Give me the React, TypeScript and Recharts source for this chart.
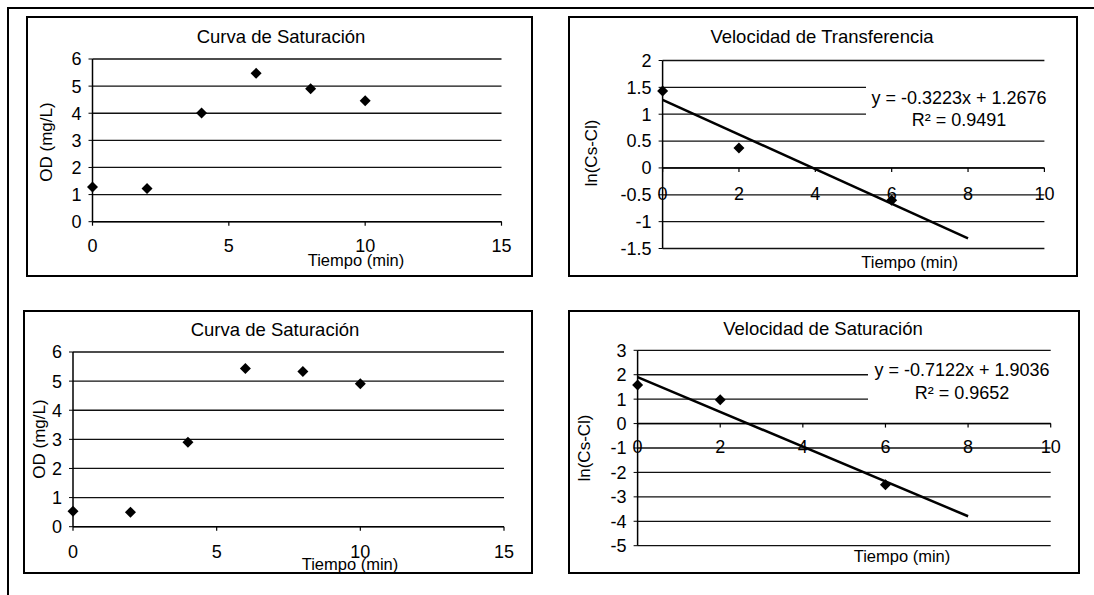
import React from "react";
import { ComposedChart, Scatter, Line, XAxis, YAxis, CartesianGrid, ReferenceLine } from "recharts";

// valores
const tiempo = [0, 2, 4, 6, 8, 10];
const odPrueba1 = [1.28, 1.22, 4.01, 5.47, 4.9, 4.46];
const odPrueba2 = [0.53, 0.5, 2.9, 5.43, 5.33, 4.91];

const tiempoLn = [0, 2, 6];
const lnPrueba1 = [1.43, 0.37, -0.6];
const lnPrueba2 = [1.58, 0.98, -2.5];

// extremos de las líneas de tendencia (x = 0 y x = 8)
const tendenciaX = [0, 8];
const tendencia1 = [1.2676, -1.3108];
const tendencia2 = [1.9036, -3.794];

const ticksTiempo15 = [0, 5, 10, 15];
const ticksTiempo10 = [0, 2, 4, 6, 8, 10];
const ticksOD = [0, 1, 2, 3, 4, 5, 6];
const ticksLn1 = [-1.5, -1, -0.5, 0, 0.5, 1, 1.5, 2];
const ticksLn2 = [-5, -4, -3, -2, -1, 0, 1, 2, 3];

const FONT = "'Liberation Sans', Arial, sans-serif";

const toPoints = (xs: number[], ys: number[]) => xs.map((x, i) => ({ x, y: ys[i] }));

function Diamond(props: any) {
  const { cx, cy } = props;
  const r = 5.5;
  return <path d={`M${cx},${cy - r}L${cx + r},${cy}L${cx},${cy + r}L${cx - r},${cy}Z`} fill="#000" />;
}

function XTick(props: any) {
  const { x, y, payload, shift, gap } = props;
  const ay = y - shift;
  return (
    <g>
      <line x1={x} x2={x} y1={ay} y2={ay + 4} stroke="#000" strokeWidth={1.2} />
      <text x={x} y={ay + gap} textAnchor="middle" dominantBaseline="central" fontSize={18} fill="#000" fontFamily={FONT}>
        {payload.value}
      </text>
    </g>
  );
}

interface PanelProps {
  box: { left: number; top: number; width: number; height: number };
  plot: { left: number; right: number; top: number; bottom: number };
  title: string;
  titlePos: [number, number];
  xLabelPos: [number, number];
  yLabel: string;
  yLabelPos: [number, number];
  xDomain: [number, number];
  xTicks: number[];
  yDomain: [number, number];
  yTicks: number[];
  points: { x: number; y: number }[];
  trend?: { x: number; y: number }[];
  tickGap: number;
  eq?: { lines: string[]; left: number; top: number; width: number; lineHeight: number; padTop: number; padBottom: number };
}

function Panel(p: PanelProps) {
  const plotH = p.box.height - p.plot.top - p.plot.bottom;
  const shift = (plotH * (0 - p.yDomain[0])) / (p.yDomain[1] - p.yDomain[0]);
  const center: React.CSSProperties = { position: "absolute", transform: "translate(-50%, -50%)", whiteSpace: "nowrap", color: "#000" };
  return (
    <div style={{ position: "absolute", left: p.box.left, top: p.box.top, width: p.box.width, height: p.box.height }}>
      <ComposedChart
        width={p.box.width}
        height={p.box.height}
        margin={{ top: p.plot.top, right: p.plot.right, left: 0, bottom: 0 }}
      >
        <CartesianGrid vertical={false} stroke="#111" strokeWidth={1.3} />
        <XAxis
          type="number"
          dataKey="x"
          domain={p.xDomain}
          ticks={p.xTicks}
          interval={0}
          axisLine={false}
          tickLine={false}
          tickSize={0}
          tickMargin={0}
          height={p.plot.bottom}
          tick={(t: any) => <XTick {...t} shift={shift} gap={p.tickGap} />}
        />
        <YAxis
          type="number"
          domain={p.yDomain}
          ticks={p.yTicks}
          interval={0}
          width={p.plot.left}
          axisLine={{ stroke: "#000", strokeWidth: 1.5 }}
          tickLine={{ stroke: "#000" }}
          tickSize={4}
          tickMargin={7}
          tick={{ fill: "#000", fontSize: 18, fontFamily: FONT }}
        />
        <ReferenceLine y={0} stroke="#000" strokeWidth={1.5} />
        {p.trend && (
          <Line
            data={p.trend}
            dataKey="y"
            type="linear"
            stroke="#000"
            strokeWidth={2.5}
            dot={false}
            activeDot={false}
            isAnimationActive={false}
          />
        )}
        <Scatter data={p.points} dataKey="y" shape={Diamond} isAnimationActive={false} />
      </ComposedChart>
      <div
        style={{
          position: "absolute",
          inset: 0,
          border: "2px solid #000",
          boxSizing: "border-box",
          pointerEvents: "none",
        }}
      />
      <div style={{ ...center, left: p.titlePos[0], top: p.titlePos[1], fontSize: 18.5 }}>{p.title}</div>
      <div style={{ ...center, left: p.xLabelPos[0], top: p.xLabelPos[1], fontSize: 16.5 }}>Tiempo (min)</div>
      <div
        style={{
          ...center,
          left: p.yLabelPos[0],
          top: p.yLabelPos[1],
          fontSize: 17,
          transform: "translate(-50%, -50%) rotate(-90deg)",
        }}
      >
        {p.yLabel}
      </div>
      {p.eq && (
        <div
          style={{
            position: "absolute",
            left: p.eq.left,
            top: p.eq.top,
            width: p.eq.width,
            paddingTop: p.eq.padTop,
            paddingBottom: p.eq.padBottom,
            background: "#fff",
            textAlign: "center",
            fontSize: 18,
            lineHeight: `${p.eq.lineHeight}px`,
            color: "#000",
            whiteSpace: "nowrap",
          }}
        >
          {p.eq.lines.map((l) => (
            <div key={l}>{l}</div>
          ))}
        </div>
      )}
    </div>
  );
}

export default function App() {
  return (
    <div
      style={{
        position: "absolute",
        left: 0,
        top: 0,
        width: 1094,
        height: 595,
        overflow: "hidden",
        background: "#fff",
        fontFamily: FONT,
      }}
    >
      <div style={{ position: "absolute", left: 8, top: 7, width: 1086, height: 2, background: "#000" }} />
      <div style={{ position: "absolute", left: 7, top: 7, width: 2, height: 588, background: "#000" }} />

      <Panel
        box={{ left: 26, top: 16, width: 507, height: 261 }}
        plot={{ left: 66.5, right: 31.5, top: 43, bottom: 55.3 }}
        title="Curva de Saturación"
        titlePos={[255, 21]}
        xLabelPos={[330, 244]}
        yLabel="OD (mg/L)"
        yLabelPos={[21.4, 126]}
        xDomain={[0, 15]}
        xTicks={ticksTiempo15}
        yDomain={[0, 6]}
        yTicks={ticksOD}
        points={toPoints(tiempo, odPrueba1)}
        tickGap={24}
      />

      <Panel
        box={{ left: 568, top: 16, width: 510, height: 261 }}
        plot={{ left: 94.6, right: 33.6, top: 44.5, bottom: 28.5 }}
        title="Velocidad de Transferencia"
        titlePos={[254, 21]}
        xLabelPos={[341.6, 246]}
        yLabel="ln(Cs-Cl)"
        yLabelPos={[23.5, 136.5]}
        xDomain={[0, 10]}
        xTicks={ticksTiempo10}
        yDomain={[-1.5, 2]}
        yTicks={ticksLn1}
        points={toPoints(tiempoLn, lnPrueba1)}
        trend={toPoints(tendenciaX, tendencia1)}
        tickGap={25.6}
        eq={{
          lines: ["y = -0.3223x + 1.2676", "R² = 0.9491"],
          left: 298,
          top: 67,
          width: 186,
          lineHeight: 22,
          padTop: 4,
          padBottom: 4,
        }}
      />

      <Panel
        box={{ left: 23, top: 310, width: 510, height: 264 }}
        plot={{ left: 50, right: 29, top: 42, bottom: 47.3 }}
        title="Curva de Saturación"
        titlePos={[252, 20]}
        xLabelPos={[327, 254.4]}
        yLabel="OD (mg/L)"
        yLabelPos={[16.5, 128.5]}
        xDomain={[0, 15]}
        xTicks={ticksTiempo15}
        yDomain={[0, 6]}
        yTicks={ticksOD}
        points={toPoints(tiempo, odPrueba2)}
        tickGap={25.7}
      />

      <Panel
        box={{ left: 568, top: 310, width: 512, height: 264 }}
        plot={{ left: 69.6, right: 29.3, top: 40.3, bottom: 28.3 }}
        title="Velocidad de Saturación"
        titlePos={[255, 19]}
        xLabelPos={[334, 245.8]}
        yLabel="ln(Cs-Cl)"
        yLabelPos={[17, 137.5]}
        xDomain={[0, 10]}
        xTicks={ticksTiempo10}
        yDomain={[-5, 3]}
        yTicks={ticksLn2}
        points={toPoints(tiempoLn, lnPrueba2)}
        trend={toPoints(tendenciaX, tendencia2)}
        tickGap={23}
        eq={{
          lines: ["y = -0.7122x + 1.9036", "R² = 0.9652"],
          left: 300,
          top: 47,
          width: 188,
          lineHeight: 23,
          padTop: 2,
          padBottom: 6,
        }}
      />
    </div>
  );
}
